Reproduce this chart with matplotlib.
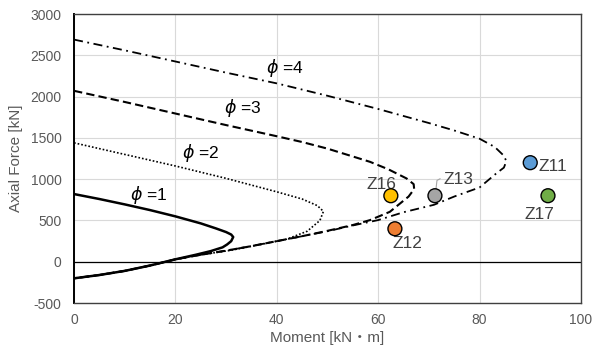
import matplotlib
matplotlib.use("Agg")
import matplotlib.pyplot as plt

plt.rcParams['font.family'] = ['Liberation Sans', 'Noto Sans CJK JP', 'DejaVu Sans']
plt.rcParams['axes.unicode_minus'] = False

# N-M interaction curves (Moment [kN・m], Axial Force [kN])
# shared tension branch
m_low = [20, 15, 10, 5, 0]
n_low = [30, -45, -110, -160, -200]

m_phi1 = [0, 5, 10, 15, 20, 25, 28, 30, 31, 31.4, 31.0, 30.2, 29.3, 27, 24] + m_low
n_phi1 = [820, 760, 695, 626, 550, 465, 404, 360, 330, 300, 250, 210, 175, 130, 85] + n_low

m_phi2 = [0, 10, 20, 30, 40, 45, 48, 49.2, 48.5, 46, 42, 36, 31, 25] + m_low
n_phi2 = [1440, 1300, 1160, 1010, 847, 760, 680, 610, 500, 370, 275, 200, 140, 85] + n_low

m_phi3 = [0, 10, 20, 30, 40, 45, 50, 55, 58.4, 62, 65.6, 67, 67.1, 66, 64, 62.3,
          58.4, 55, 50, 45, 40, 35, 30, 25] + m_low
n_phi3 = [2070, 1935, 1795, 1655, 1520, 1450, 1370, 1275, 1210, 1120, 1009, 940, 880, 790, 690, 605,
          505, 445, 375, 310, 250, 190, 135, 85] + n_low

m_phi4 = [0, 10, 20, 30, 40, 50, 60, 70, 75, 80, 83, 84.7, 85.3, 84.8, 83.3, 80, 75, 71, 65, 60,
          55, 50, 45, 40, 35, 30, 25] + m_low
n_phi4 = [2690, 2560, 2425, 2290, 2160, 2010, 1850, 1680, 1590, 1490, 1390, 1290, 1220, 1140, 1070, 900, 790, 690, 600, 505,
          440, 370, 310, 250, 190, 135, 85] + n_low

# test points
pt_names = ["Z11", "Z12", "Z13", "Z16", "Z17"]
pt_m = [90, 63.3, 71.2, 62.5, 93.5]
pt_n = [1200, 400, 800, 800, 800]
pt_colors = ["#5B9BD5", "#ED7D31", "#A5A5A5", "#FFC000", "#70AD47"]
# label positions for the points
lab_m = [94.4, 65.8, 75.9, 60.6, 91.8]
lab_n = [1150, 222, 997, 930, 577]

fig = plt.figure(figsize=(6.02, 3.5), dpi=100)
ax = fig.add_axes([0.123, 0.134, 0.842, 0.826])

ax.plot(m_phi1, n_phi1, color="black", lw=1.8)
ax.plot(m_phi2, n_phi2, color="black", lw=1.2, dashes=(1, 1.2))
ax.plot(m_phi3, n_phi3, color="black", lw=1.5, dashes=(4, 2))
ax.plot(m_phi4, n_phi4, color="black", lw=1.3, dashes=(5, 2.5, 1, 2.5))

ax.scatter(pt_m, pt_n, s=100, c=pt_colors, edgecolors="black", linewidths=1, zorder=5)

ax.axhline(0, color="black", lw=0.9)

# curve labels
ax.text(41.6, 2346, r"$\phi$ =4", fontsize=12.5, ha="center", va="center")
ax.text(33.3, 1860, r"$\phi$ =3", fontsize=12.5, ha="center", va="center")
ax.text(25.0, 1314, r"$\phi$ =2", fontsize=12.5, ha="center", va="center")
ax.text(14.8, 805, r"$\phi$ =1", fontsize=12.5, ha="center", va="center")

# point labels
for name, x, y in zip(pt_names, lab_m, lab_n):
    ax.text(x, y, name, fontsize=12.5, color="#404040", ha="center", va="center")
ax.plot([71.4, 71.6, 72.2], [880, 985, 1005], color="#A5A5A5", lw=0.8)

ax.set_xlim(0, 100)
ax.set_ylim(-500, 3000)
ax.set_xticks(range(0, 101, 20))
ax.set_yticks(range(-500, 3001, 500))
ax.grid(True, color="#D9D9D9", lw=0.8)
ax.set_axisbelow(True)
ax.tick_params(length=0, labelsize=10, labelcolor="#595959")
ax.tick_params(axis="y", pad=9)
ax.tick_params(axis="x", pad=7)

for s in ax.spines.values():
    s.set_color("#404040")
    s.set_linewidth(1.0)
ax.spines["left"].set_color("black")
ax.spines["left"].set_linewidth(1.4)

ax.set_xlabel("Moment [kN・m]", fontsize=11, color="#595959", labelpad=3)
ax.set_ylabel("Axial Force [kN]", fontsize=11, color="#595959", labelpad=5)

fig.savefig("out.png", dpi=100)
